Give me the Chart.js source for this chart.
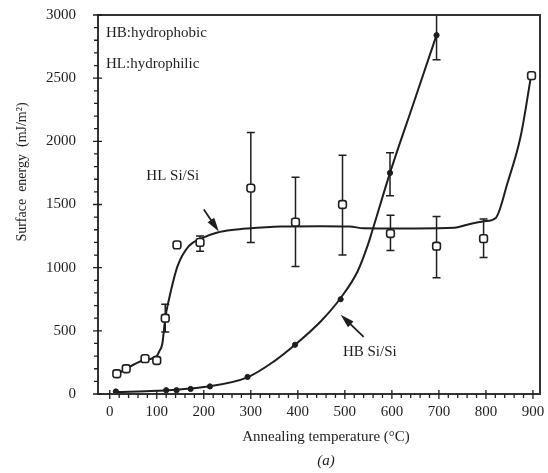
<!DOCTYPE html>
<html>
<head>
<meta charset="utf-8">
<script src="https://cdn.jsdelivr.net/npm/chart.js@4.4.1/dist/chart.umd.min.js"></script>
<style>
  body { margin: 0; background: #fff; }
  canvas { display: block; }
</style>
</head>
<body>
<canvas id="grafico" width="548" height="473"></canvas>
<script>
// tick labels
const xTickLabels = [0, 100, 200, 300, 400, 500, 600, 700, 800, 900];
const yTickLabels = [0, 500, 1000, 1500, 2000, 2500, 3000];

// HL Si/Si (hydrophilic) measured points
const hlTemp = [15, 35, 75, 100, 118, 143, 192, 300, 395, 495, 597, 695, 795, 897];
const hlEnergy = [160, 200, 280, 265, 600, 1180, 1200, 1630, 1360, 1500, 1270, 1170, 1230, 2520];
const hlErrLow = [null, null, null, null, 490, null, 1130, 1200, 1010, 1100, 1135, 920, 1080, null];
const hlErrHigh = [null, null, null, null, 710, null, 1250, 2070, 1715, 1890, 1415, 1405, 1385, null];

// HB Si/Si (hydrophobic) measured points
const hbTemp = [13, 120, 142, 172, 213, 293, 394, 491, 596, 695];
const hbEnergy = [20, 30, 30, 40, 60, 135, 390, 750, 1750, 2840];
const hbErrLow = [null, null, null, null, null, null, null, null, 1570, 2645];
const hbErrHigh = [null, null, null, null, null, null, null, null, 1910, 3100];

// fitted curves
const hlCurveT = [13, 35, 70, 100, 105, 112, 118, 126, 144, 168, 194, 229, 264, 293, 364, 450, 510, 540, 650, 733, 760, 796, 821, 846, 874, 896];
const hlCurveE = [150, 200, 265, 300, 336, 402, 600, 750, 1010, 1170, 1230, 1278, 1300, 1310, 1325, 1328, 1326, 1312, 1310, 1315, 1340, 1367, 1394, 1672, 2042, 2518];
const hbCurveT = [13, 100, 200, 293, 350, 394, 450, 491, 527, 548, 559, 596, 645, 695];
const hbCurveE = [15, 25, 55, 132, 260, 389, 580, 760, 970, 1170, 1300, 1750, 2290, 2841];

const serif = "'Liberation Serif', 'DejaVu Serif', serif";
const ink = '#1e1e1e';

function pontos(xs, ys) {
  return xs.map((x, i) => ({ x: x, y: ys[i] }));
}

const barras = [
  { t: hlTemp, lo: hlErrLow, hi: hlErrHigh },
  { t: hbTemp, lo: hbErrLow, hi: hbErrHigh },
];

// text labels and arrows in data coordinates
const rotulos = [
  { text: 'HB:hydrophobic', x: -8, y: 2855, align: 'left' },
  { text: 'HL:hydrophilic', x: -8, y: 2615, align: 'left' },
  { text: 'HL Si/Si', x: 134, y: 1722, align: 'center' },
  { text: 'HB Si/Si', x: 553, y: 333, align: 'center' },
];
const setas = [
  { from: [200, 1460], to: [232, 1286] },
  { from: [540, 452], to: [491, 627] },
];

const moldura = {
  id: 'moldura',
  beforeDatasetsDraw(chart) {
    const c = chart.ctx, sx = chart.scales.x, sy = chart.scales.y, a = chart.chartArea;
    c.save();
    c.beginPath();
    c.rect(a.left, a.top - 1, a.right - a.left, a.bottom - a.top + 1);
    c.clip();
    c.strokeStyle = ink;
    c.lineWidth = 1.5;
    barras.forEach(b => {
      b.t.forEach((t, i) => {
        if (b.lo[i] == null) return;
        const px = sx.getPixelForValue(t);
        const y1 = sy.getPixelForValue(b.lo[i]);
        const y2 = sy.getPixelForValue(b.hi[i]);
        c.beginPath();
        c.moveTo(px, y1); c.lineTo(px, y2);
        c.moveTo(px - 4, y1); c.lineTo(px + 4, y1);
        c.moveTo(px - 4, y2); c.lineTo(px + 4, y2);
        c.stroke();
      });
    });
    c.restore();
  },
  afterDraw(chart) {
    const c = chart.ctx, sx = chart.scales.x, sy = chart.scales.y, a = chart.chartArea;
    c.save();
    c.strokeStyle = '#333';
    c.lineWidth = 2;
    c.strokeRect(a.left, a.top, a.right - a.left, a.bottom - a.top);

    // tick marks
    c.lineWidth = 1.3;
    c.strokeStyle = ink;
    c.beginPath();
    for (let v = 0; v <= 900; v += 20) {
      const px = sx.getPixelForValue(v);
      const major = v % 100 === 0;
      c.moveTo(px, a.bottom - (major ? 4 : 0));
      c.lineTo(px, a.bottom + (major ? 5 : 4));
    }
    for (let v = 0; v <= 3000; v += 100) {
      const py = sy.getPixelForValue(v);
      const major = v % 500 === 0;
      c.moveTo(a.left + (major ? 4 : 0), py);
      c.lineTo(a.left - (major ? 5 : 4), py);
    }
    c.stroke();

    // labels in the plot
    c.fillStyle = ink;
    c.font = '15px ' + serif;
    c.textBaseline = 'middle';
    rotulos.forEach(r => {
      c.textAlign = r.align;
      c.fillText(r.text, sx.getPixelForValue(r.x), sy.getPixelForValue(r.y));
    });

    // arrows
    setas.forEach(s => {
      const x1 = sx.getPixelForValue(s.from[0]), y1 = sy.getPixelForValue(s.from[1]);
      const x2 = sx.getPixelForValue(s.to[0]), y2 = sy.getPixelForValue(s.to[1]);
      const ang = Math.atan2(y2 - y1, x2 - x1);
      c.lineWidth = 1.8;
      c.beginPath();
      c.moveTo(x1, y1);
      c.lineTo(x2 - 10 * Math.cos(ang), y2 - 10 * Math.sin(ang));
      c.stroke();
      c.beginPath();
      c.moveTo(x2, y2);
      c.lineTo(x2 - 14 * Math.cos(ang) + 4 * Math.sin(ang), y2 - 14 * Math.sin(ang) - 4 * Math.cos(ang));
      c.lineTo(x2 - 14 * Math.cos(ang) - 4 * Math.sin(ang), y2 - 14 * Math.sin(ang) + 4 * Math.cos(ang));
      c.closePath();
      c.fill();
    });

    // axis titles
    c.textAlign = 'center';
    c.font = '15px ' + serif;
    c.fillText('Annealing temperature (\u00B0C)', (a.left + a.right) / 2 + 7, 437);
    c.font = 'italic 15px ' + serif;
    c.fillText('(a)', (a.left + a.right) / 2 + 7, 461);
    c.translate(22, 172);
    c.rotate(-Math.PI / 2);
    c.font = '14px ' + serif;
    c.fillText('Surface  energy  (mJ/m\u00B2)', 0, 0);
    c.restore();
  }
};

const ctx = document.getElementById('grafico').getContext('2d');
let myChart = new Chart(ctx, {
  type: 'scatter',
  data: {
    datasets: [
      {
        label: 'HL Si/Si',
        data: pontos(hlTemp, hlEnergy),
        pointStyle: 'rectRounded',
        pointRadius: 4.5,
        backgroundColor: '#fff',
        borderColor: ink,
        borderWidth: 1.6,
        showLine: false,
      },
      {
        label: 'HB Si/Si',
        data: pontos(hbTemp, hbEnergy),
        pointStyle: 'circle',
        pointRadius: 2.6,
        backgroundColor: ink,
        borderColor: ink,
        borderWidth: 1,
        showLine: false,
      },
      {
        label: 'HL fit',
        data: pontos(hlCurveT, hlCurveE),
        showLine: true,
        pointRadius: 0,
        borderColor: ink,
        borderWidth: 2,
        cubicInterpolationMode: 'monotone',
      },
      {
        label: 'HB fit',
        data: pontos(hbCurveT, hbCurveE),
        showLine: true,
        pointRadius: 0,
        borderColor: ink,
        borderWidth: 2,
        cubicInterpolationMode: 'monotone',
      },
    ],
  },
  options: {
    responsive: false,
    animation: false,
    layout: { padding: { top: 15, right: 8, left: 0, bottom: 0 } },
    plugins: { legend: { display: false }, tooltip: { enabled: false } },
    scales: {
      x: {
        type: 'linear',
        min: -25,
        max: 915,
        afterBuildTicks: (s) => { s.ticks = xTickLabels.map(v => ({ value: v })); },
        afterFit: (s) => { s.height = 79; s.paddingLeft = 0; s.paddingRight = 0; },
        grid: { display: false },
        border: { display: false },
        ticks: {
          autoSkip: false,
          maxRotation: 0,
          padding: 1,
          color: ink,
          font: { family: serif, size: 15 },
          callback: (v) => String(v),
        },
      },
      y: {
        min: 0,
        max: 3000,
        afterBuildTicks: (s) => { s.ticks = yTickLabels.map(v => ({ value: v })); },
        afterFit: (s) => { s.width = 98; s.paddingTop = 0; s.paddingBottom = 0; },
        grid: { display: false },
        border: { display: false },
        ticks: {
          autoSkip: false,
          padding: 14,
          color: ink,
          font: { family: serif, size: 15 },
          callback: (v) => String(v),
        },
      },
    },
  },
  plugins: [moldura],
});
</script>
</body>
</html>
